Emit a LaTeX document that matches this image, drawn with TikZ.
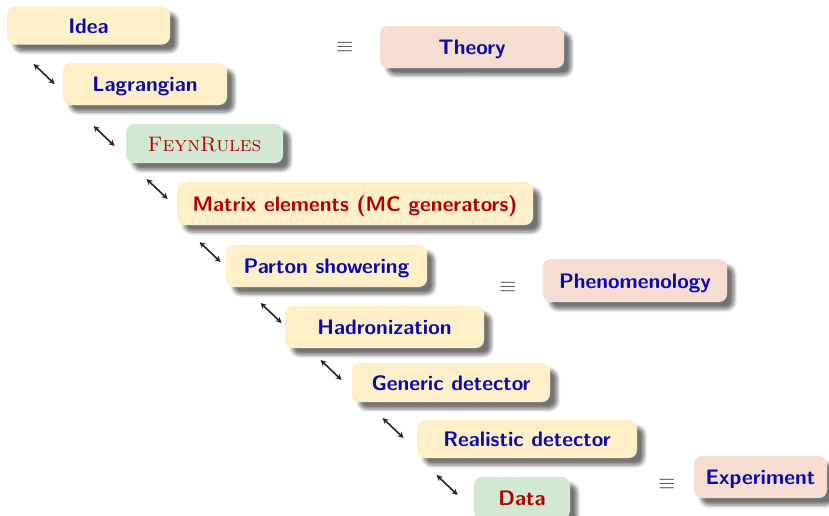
\documentclass[tikz,border=0pt]{standalone}
\usepackage{xcolor}
\usepackage{tikz}
\usetikzlibrary{positioning,arrows.meta,calc,shadows.blur}

\definecolor{stageyellow}{RGB}{253,239,200}
\definecolor{stagepink}{RGB}{246,221,210}
\definecolor{stagegreen}{RGB}{210,232,210}
\definecolor{textblue}{RGB}{10,10,170}
\definecolor{textred}{RGB}{180,0,0}
\definecolor{eqgray}{RGB}{60,60,60}

\tikzset{
  stage/.style={rounded corners=4pt, minimum height=21pt, inner sep=0pt,
    text height=8.5pt, text depth=1pt,
    text=textblue, font=\sffamily\bfseries\fontsize{10.5}{12}\selectfont,
    blur shadow={shadow xshift=3.5pt, shadow yshift=-3.5pt, shadow blur steps=6, shadow opacity=55}},
  yellowstage/.style={stage, fill=stageyellow},
  pinkstage/.style={stage, fill=stagepink},
  greenstage/.style={stage, fill=stagegreen},
  redtext/.style={text=textred},
  twoway/.style={{Stealth[length=3pt,width=3pt]}-{Stealth[length=3pt,width=3pt]}, line width=0.8pt, black!85},
  equiv/.style={text=eqgray, font=\fontsize{10.5}{12}\selectfont}
}

\begin{document}
\begin{tikzpicture}[x=0.5pt, y=-0.5pt]
\useasboundingbox (0,0) rectangle (829,515);
% the chain
\node[yellowstage, minimum width=81.5pt, minimum height=19pt] (idea) at (88.5,25.5) {Idea};
\node[yellowstage, minimum width=82pt] (lag) at (145,84) {Lagrangian};
\node[greenstage, redtext, minimum width=78.5pt, minimum height=19.5pt,
      font=\rmfamily\fontsize{10.5}{12}\selectfont] (feyn) at (204.5,143.5) {\textsc{FeynRules}};
\node[yellowstage, redtext, minimum width=178pt, minimum height=21.5pt] (matrix) at (355,203.5) {Matrix elements (MC generators)};
\node[yellowstage, minimum width=100.5pt] (parton) at (326.5,266) {Parton showering};
\node[yellowstage, minimum width=99.5pt] (hadron) at (384.5,327) {Hadronization};
\node[yellowstage, minimum width=99pt, minimum height=19.5pt] (generic) at (451,382.5) {Generic detector};
\node[yellowstage, minimum width=110pt, minimum height=19pt] (realistic) at (527,439) {Realistic detector};
\node[greenstage, redtext, minimum width=48pt] (data) at (522,498) {Data};
% the three fields
\node[equiv] (eqtheory) at (345,47) {$\equiv$};
\node[pinkstage, minimum width=92pt] (theory) at (472,47) {Theory};
\node[equiv] (eqpheno) at (508,287) {$\equiv$};
\node[pinkstage, minimum width=92pt, minimum height=21.5pt] (pheno) at (635,280.5) {Phenomenology};
\node[equiv] (eqexp) at (667,484) {$\equiv$};
\node[pinkstage, minimum width=66.5pt] (exp) at (760.5,477) {Experiment};
% double arrows in front of each step
\foreach \n/\dx/\dy in {lag/-29/-20, feyn/-32/-17.5, matrix/-30/-24.5, parton/-26/-24,
    hadron/-24/-24, generic/-31/-22.5, realistic/-34/-21, data/-37/-23}
  \draw[twoway] ($(\n.west)+(\dx,\dy)$) -- ++(21,20);
\end{tikzpicture}
\end{document}
